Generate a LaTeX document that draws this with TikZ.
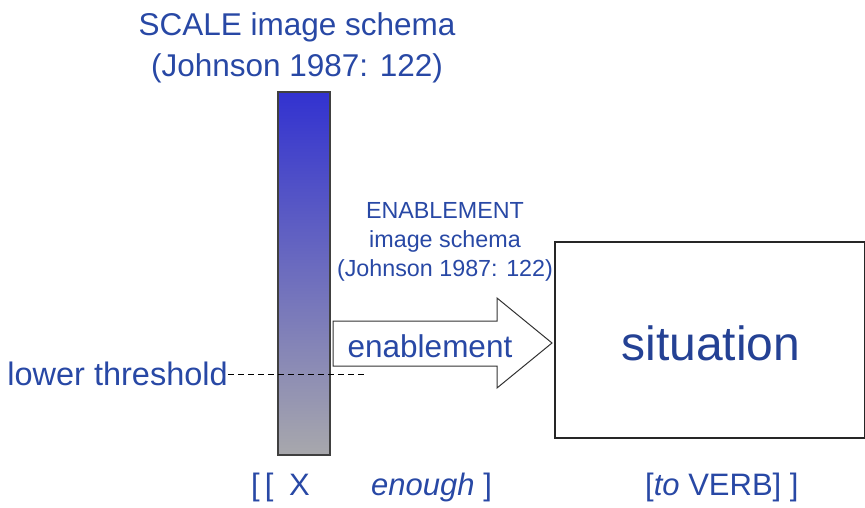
\documentclass[tikz,border=0pt]{standalone}
\usepackage{fontspec}
\setmainfont{Liberation Sans}
\begin{document}
\begin{tikzpicture}[x=1pt,y=-1pt,
  txt/.style={text=txtblue,inner sep=0pt,font=\fontsize{31}{36}\selectfont},
  small/.style={text=txtblue,inner sep=0pt,font=\fontsize{23.3}{29}\selectfont,align=center},
  bottom/.style={txt,anchor=west,font=\fontsize{31}{34}\selectfont}]
\definecolor{txtblue}{RGB}{40,72,165}
\definecolor{bartop}{RGB}{50,50,208}
\definecolor{barbot}{RGB}{168,168,172}
\useasboundingbox (0,0) rectangle (865,508);
% title
\node[txt,align=center,font=\fontsize{31.5}{41}\selectfont] (title) at (297,48) {SCALE image schema\\(Johnson 1987: 122)};
% bar
\node[draw=black!75,line width=1.6pt,top color=bartop,bottom color=barbot,minimum width=52,minimum height=363,inner sep=0pt] (bar) at (304,273.5) {};
% situation box
\node[draw=black!85,line width=1.4pt,minimum width=310,minimum height=196,inner sep=0pt] (sit) at (710,340) {};
\node[txt,font=\fontsize{48}{50}\selectfont,text=txtblue!90!black] (sitlbl) at (711,343) {situation};
% arrow
\draw[black!80,line width=1pt,fill=white] (333,321) coordinate (a1) -- (497,321) -- (497,298) -- (552,343) coordinate (tip) -- (497,388) -- (497,366) -- (333,366) -- cycle;
\node[txt,font=\fontsize{31.5}{36}\selectfont] (enab) at (430,346) {enablement};
% enablement schema label
\node[small] (eschema) at (445,242) {ENABLEMENT\\image schema\\(Johnson 1987: 122)};
% lower threshold
\node[txt,anchor=east,font=\fontsize{32.5}{36}\selectfont] (lt) at (228,374) {lower threshold};
\coordinate (dend) at (366,374);
\draw[line width=0.9pt,dash pattern=on 6pt off 4pt] (lt.east) -- (dend);
% bottom labels
\node[bottom] (bx) at (251,487) {[\,[\,\,\,X};
\node[bottom] (benough) at (371,487) {\textit{enough} ]};
\node[bottom] (bverb) at (645,487) {[\textit{to} VERB] ]};
\end{tikzpicture}
\end{document}
